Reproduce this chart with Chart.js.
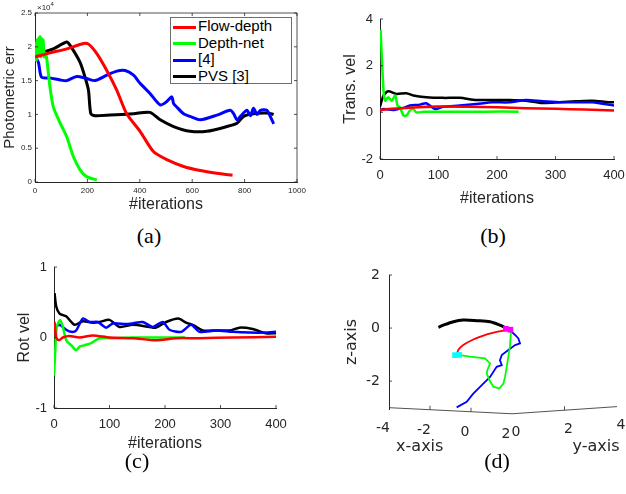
<!DOCTYPE html>
<html>
<head>
<meta charset="utf-8">
<script src="https://cdn.jsdelivr.net/npm/chart.js@4.4.0/dist/chart.umd.min.js"></script>
<style>
body { margin:0; background:#fff; width:626px; height:494px; position:relative; overflow:hidden; font-family:"Liberation Sans", Arial, sans-serif; }
.panel { position:absolute; }
.cap { position:absolute; font-family:"Liberation Serif", serif; font-size:22px; color:#000; transform:translate(-50%,-50%); }
#legend { position:absolute; left:170px; top:17px; width:120px; height:65px; border:1px solid #6e6e6e; background:#fff; font-size:15px; color:#000; }
#legend div { height:16.5px; line-height:16.5px; white-space:nowrap; }
#legend span { display:inline-block; width:23px; height:3px; vertical-align:middle; margin:0 2px 0 2px; }
#exp { position:absolute; left:37px; top:1px; font-size:8px; color:#262626; }
</style>
</head>
<body>

<div class="panel" style="left:0;top:0;width:310px;height:215px"><canvas id="chartA"></canvas></div>
<div class="panel" style="left:310px;top:0;width:316px;height:215px"><canvas id="chartB"></canvas></div>
<div class="panel" style="left:0;top:250px;width:310px;height:210px"><canvas id="chartC"></canvas></div>
<div class="panel" style="left:330px;top:250px;width:296px;height:210px"><canvas id="chartD"></canvas></div>
<div id="exp">&times;10<sup style="font-size:6px">4</sup></div>
<div id="legend"></div>
<div class="cap" style="left:149px;top:236px">(a)</div>
<div class="cap" style="left:493px;top:236px">(b)</div>
<div class="cap" style="left:137px;top:461px">(c)</div>
<div class="cap" style="left:497px;top:461px">(d)</div>

<script>
// series names and colours
const names = ['Flow-depth', 'Depth-net', '[4]', 'PVS [3]'];
const colors = ['#ff0000', '#00ff00', '#0000ff', '#000000'];

// (a) photometric error (x10^4) vs iterations
const errFlowIt = [0, 57, 121, 185, 204, 236, 274, 312, 350, 401, 452, 503, 567, 631, 694, 754];
const errFlow = [1.85, 1.91, 1.97, 2.05, 2.04, 1.90, 1.65, 1.36, 1.01, 0.75, 0.45, 0.33, 0.23, 0.17, 0.13, 0.10];
const errDepthIt = [0, 3, 5, 8, 10, 13, 16, 19, 22, 25, 28, 31, 35, 40, 45, 57, 70, 96, 121, 146, 172, 197, 236];
const errDepth = [1.85, 2.05, 1.8, 2.1, 1.85, 2.12, 1.9, 2.15, 1.85, 2.12, 1.9, 2.1, 1.85, 1.9, 1.82, 1.41, 1.11, 0.87, 0.67, 0.38, 0.18, 0.08, 0.03];
const errRefIt = [0, 13, 25, 57, 96, 121, 159, 197, 229, 274, 312, 344, 376, 401, 439, 478, 503, 522, 529, 541, 567, 592, 631, 694, 745, 758, 771, 784, 809, 822, 834, 847, 860, 885, 898, 911];
const errRef = [1.85, 1.77, 1.55, 1.54, 1.51, 1.50, 1.56, 1.53, 1.50, 1.58, 1.64, 1.65, 1.58, 1.46, 1.31, 1.14, 1.19, 1.26, 1.16, 1.11, 1.01, 0.97, 0.92, 0.99, 1.06, 1.01, 0.92, 0.97, 1.06, 0.98, 1.09, 1.0, 1.06, 1.06, 0.97, 0.86];
const errPvsIt = [0, 32, 70, 121, 134, 172, 191, 204, 213, 229, 287, 376, 439, 478, 529, 592, 656, 732, 771, 796, 834, 885, 911];
const errPvs = [1.84, 1.92, 1.97, 2.07, 2.02, 1.77, 1.55, 1.36, 1.01, 0.98, 0.99, 1.01, 1.03, 0.92, 0.82, 0.75, 0.75, 0.82, 0.87, 0.97, 1.01, 1.02, 1.0];
const errXTicks = [0, 200, 400, 600, 800, 1000];
const errYTicks = [0, 0.5, 1, 1.5, 2, 2.5];

// (b) translational velocity
const transFlowIt = [0, 20, 50, 100, 150, 200, 250, 300, 350, 400];
const transFlow = [0.1, 0.15, 0.2, 0.25, 0.24, 0.22, 0.18, 0.15, 0.12, 0.08];
const transDepthIt = [1, 6, 9, 14, 20, 26, 30, 34, 40, 45, 51, 57, 62, 74, 120, 180, 237];
const transDepth = [3.54, 0.93, 0.5, 0.65, 0.5, 0.72, 0.29, 0.22, -0.14, -0.14, 0.07, 0.14, 0, 0.02, 0.02, 0.03, 0.03];
const transRefIt = [0, 6, 23, 40, 51, 68, 79, 94, 108, 136, 165, 193, 221, 250, 278, 306, 335, 363, 400];
const transRef = [0.07, 0.14, 0.1, 0.19, 0.29, 0.33, 0.39, 0.14, 0.24, 0.29, 0.36, 0.43, 0.43, 0.53, 0.47, 0.43, 0.43, 0.43, 0.29];
const transPvsIt = [0, 6, 14, 28, 45, 57, 79, 108, 136, 165, 193, 221, 250, 278, 306, 335, 363, 391, 400];
const transPvs = [0.24, 0.72, 0.90, 0.79, 0.82, 0.72, 0.65, 0.62, 0.62, 0.53, 0.53, 0.53, 0.5, 0.4, 0.43, 0.47, 0.5, 0.43, 0.43];
const transYTicks = [-2, 0, 2, 4];

// (c) rotational velocity
const rotFlowIt = [1, 4, 9, 16, 28, 46, 70, 100, 142, 184, 220, 262, 322, 400];
const rotFlow = [0.22, 0, -0.04, 0, 0.02, 0, 0.03, 0, -0.01, -0.04, -0.01, -0.01, 0, 0.01];
const rotDepthIt = [0, 2, 5, 11, 16, 22, 31, 40, 46, 55, 67, 82, 100, 142, 202, 236];
const rotDepth = [-0.54, -0.23, 0.15, 0.25, 0.15, -0.04, -0.11, -0.18, -0.13, -0.11, -0.08, -0.01, -0.01, 0, 0, 0];
const rotRefIt = [0, 4, 10, 22, 31, 40, 52, 64, 79, 94, 106, 130, 142, 160, 178, 196, 208, 229, 247, 262, 292, 322, 352, 382, 400];
const rotRef = [0.06, 0.15, 0.18, 0.11, 0.08, 0.10, 0.27, 0.22, 0.22, 0.14, 0.2, 0.19, 0.20, 0.22, 0.15, 0.22, 0.11, 0.08, 0.18, 0.08, 0.1, 0.08, 0.07, 0.07, 0.08];
const rotPvsIt = [1, 4, 10, 22, 37, 52, 70, 82, 100, 118, 142, 172, 184, 202, 224, 238, 250, 268, 292, 317, 334, 358, 382, 400];
const rotPvs = [0.63, 0.44, 0.34, 0.30, 0.18, 0.23, 0.21, 0.22, 0.25, 0.15, 0.18, 0.15, 0.14, 0.22, 0.27, 0.21, 0.18, 0.10, 0.10, 0.1, 0.14, 0.12, 0.06, 0.06];
const rotYTicks = [-1, 0, 1];
const velXTicks = [0, 100, 200, 300, 400];

// (d) camera trajectories, projected: u = horizontal (x-axis units), z
const trajPvsU = [-1.59, -1.35, -0.86, -0.38, 0.28, 0.93, 1.41, 1.74];
const trajPvsZ = [0.03, 0.11, 0.24, 0.30, 0.28, 0.24, 0.11, -0.01];
const trajFlowU = [-0.70, -0.62, -0.38, 0.11, 0.77, 1.25, 1.74];
const trajFlowZ = [-1.02, -0.83, -0.64, -0.43, -0.24, -0.14, -0.08];
const trajDepthU = [-0.54, -0.05, 0.68, 0.93, 0.80, 0.77, 0.89, 1.09, 1.38, 1.58, 1.66, 1.74, 1.82, 1.90, 1.94, 1.90];
const trajDepthZ = [-1.02, -1.08, -1.14, -1.33, -1.58, -1.71, -1.96, -2.21, -2.28, -2.09, -1.84, -1.46, -1.08, -0.70, -0.20, -0.08];
const trajRefU = [1.90, 2.15, 2.31, 2.39, 2.15, 1.82, 1.50, 1.41, 1.50, 1.25, 0.93, 0.60, 0.11, -0.21, -0.70];
const trajRefZ = [-0.08, -0.26, -0.39, -0.58, -0.64, -0.83, -1.02, -1.21, -1.40, -1.46, -1.84, -2.09, -2.47, -2.78, -2.99];
const startU = [-0.78, -0.58];
const startZ = [-1.02, -1.01];
const goalU = [1.70, 1.92];
const goalZ = [-0.03, -0.06];
const zTicks = [-2, 0, 2];
const xAxisTicks = [-4, -2, 0, 2];
const yAxisTicks = [0, 2, 4];
const yDepthFactor = 1.28;           // one y unit in projected u units
const floorU = [-4, 2, 7.12];
const floorZ = [-3.0, -3.23, -2.96];

const tickColor = '#262626';
const pts = (xs, ys) => xs.map((x, i) => ({x: x, y: ys[i]}));

function lineSet(label, xs, ys, color, width) {
    return {
        label: label, data: pts(xs, ys), borderColor: color, backgroundColor: color,
        borderWidth: width, pointRadius: 0, tension: 0.25, fill: false
    };
}

// inward tick marks + optional full box (MATLAB look)
const matlabTicks = {
    id: 'matlabTicks',
    afterDraw(chart, args, opts) {
        const {ctx, chartArea: a, scales} = chart;
        ctx.save();
        ctx.strokeStyle = tickColor;
        ctx.lineWidth = 0.8;
        const len = 3;
        if (opts.box) {
            ctx.beginPath();
            ctx.moveTo(a.left, a.top); ctx.lineTo(a.right, a.top); ctx.lineTo(a.right, a.bottom);
            ctx.stroke();
        }
        ctx.beginPath();
        if (scales.x && scales.x.options.display) {
            scales.x.ticks.forEach(t => {
                const px = scales.x.getPixelForValue(t.value);
                ctx.moveTo(px, a.bottom); ctx.lineTo(px, a.bottom - len);
                if (opts.box) { ctx.moveTo(px, a.top); ctx.lineTo(px, a.top + len); }
            });
        }
        scales.y.ticks.forEach(t => {
            const py = scales.y.getPixelForValue(t.value);
            ctx.moveTo(a.left, py); ctx.lineTo(a.left + len, py);
            if (opts.box) { ctx.moveTo(a.right, py); ctx.lineTo(a.right - len, py); }
        });
        ctx.stroke();
        ctx.restore();
    }
};

const plain = v => String(v);

function xAxis(min, max, ticks, tickSize, tickPad, title, titleSize, titlePad, height) {
    return {
        type: 'linear', min: min, max: max,
        afterBuildTicks: s => { s.ticks = ticks.map(v => ({value: v})); },
        afterFit: s => { s.height = height; s.paddingLeft = 0; s.paddingRight = 0; },
        grid: {display: false, drawTicks: false},
        border: {display: true, color: tickColor, width: 1},
        ticks: {color: tickColor, font: {family: 'Liberation Sans', size: tickSize}, padding: tickPad, maxRotation: 0, callback: plain},
        title: {display: true, text: title, color: tickColor, font: {family: 'Liberation Sans', size: titleSize}, padding: {top: 0, bottom: titlePad}}
    };
}

function yAxis(min, max, ticks, tickSize, tickPad, title, titleSize, titlePad, width, family) {
    return {
        type: 'linear', min: min, max: max,
        afterBuildTicks: s => { s.ticks = ticks.map(v => ({value: v})); },
        afterFit: s => { s.width = width; s.paddingTop = 0; s.paddingBottom = 0; },
        grid: {display: false, drawTicks: false},
        border: {display: true, color: tickColor, width: 1},
        ticks: {color: tickColor, font: {family: family || 'Liberation Sans', size: tickSize}, padding: tickPad, callback: plain},
        title: {display: true, text: title, color: tickColor, font: {family: family || 'Liberation Sans', size: titleSize}, padding: {top: titlePad, bottom: 0}}
    };
}

const baseOpts = {
    responsive: true, maintainAspectRatio: false, animation: false,
    plugins: {legend: {display: false}, tooltip: {enabled: false}}
};

// (a)
const chartA = new Chart(document.getElementById('chartA'), {
    type: 'line',
    data: {datasets: [
        lineSet(names[0], errFlowIt, errFlow, colors[0], 3),
        lineSet(names[1], errDepthIt, errDepth, colors[1], 3),
        lineSet(names[2], errRefIt, errRef, colors[2], 3),
        lineSet(names[3], errPvsIt, errPvs, colors[3], 3)
    ]},
    options: Object.assign({}, baseOpts, {
        layout: {padding: {left: 0, right: 13, top: 13, bottom: 0}},
        scales: {
            x: xAxis(0, 1000, errXTicks, 8, 4, '#iterations', 16, 1, 33),
            y: yAxis(0, 2.5, errYTicks, 8, 3, 'Photometric err', 15, 1, 35)
        },
        plugins: Object.assign({}, baseOpts.plugins, {matlabTicks: {box: true}})
    }),
    plugins: [matlabTicks]
});

// HTML legend built from chart (a) datasets
document.getElementById('legend').innerHTML = chartA.data.datasets.map(d =>
    '<div><span style="background:' + d.borderColor + '"></span>' + d.label + '</div>').join('');

// (b)
new Chart(document.getElementById('chartB'), {
    type: 'line',
    data: {datasets: [
        lineSet(names[0], transFlowIt, transFlow, colors[0], 2.5),
        lineSet(names[1], transDepthIt, transDepth, colors[1], 2.5),
        lineSet(names[2], transRefIt, transRef, colors[2], 2.5),
        lineSet(names[3], transPvsIt, transPvs, colors[3], 2.5)
    ]},
    options: Object.assign({}, baseOpts, {
        layout: {padding: {left: 0, right: 12, top: 19, bottom: 0}},
        scales: {
            x: xAxis(0, 400, velXTicks, 13, 9, '#iterations', 16, 7, 56),
            y: yAxis(-2, 4, transYTicks, 13, 7, 'Trans. vel', 16, 31, 70)
        },
        plugins: Object.assign({}, baseOpts.plugins, {matlabTicks: {box: false}})
    }),
    plugins: [matlabTicks]
});

// (c)
new Chart(document.getElementById('chartC'), {
    type: 'line',
    data: {datasets: [
        lineSet(names[0], rotFlowIt, rotFlow, colors[0], 2.5),
        lineSet(names[1], rotDepthIt, rotDepth, colors[1], 2.5),
        lineSet(names[2], rotRefIt, rotRef, colors[2], 2.5),
        lineSet(names[3], rotPvsIt, rotPvs, colors[3], 2.5)
    ]},
    options: Object.assign({}, baseOpts, {
        layout: {padding: {left: 0, right: 34, top: 17, bottom: 0}},
        scales: {
            x: xAxis(0, 400, velXTicks, 13, 9, '#iterations', 16, 7, 52),
            y: yAxis(-1, 1, rotYTicks, 13, 7, 'Rot vel', 16, 15, 54)
        },
        plugins: Object.assign({}, baseOpts.plugins, {matlabTicks: {box: false}})
    }),
    plugins: [matlabTicks]
});

// (d) floor of the 3D box with x-axis / y-axis labels
const floor3d = {
    id: 'floor3d',
    afterDraw(chart) {
        const {ctx, scales: {x, y}} = chart;
        const floorAt = u => {
            for (let i = 0; i < floorU.length - 1; i++) {
                if (u <= floorU[i + 1]) {
                    const f = (u - floorU[i]) / (floorU[i + 1] - floorU[i]);
                    return floorZ[i] + f * (floorZ[i + 1] - floorZ[i]);
                }
            }
            return floorZ[floorZ.length - 1];
        };
        ctx.save();
        ctx.strokeStyle = tickColor;
        ctx.lineWidth = 0.8;
        ctx.beginPath();
        floorU.forEach((u, i) => {
            const px = x.getPixelForValue(u), py = y.getPixelForValue(floorZ[i]);
            if (i === 0) ctx.moveTo(px, py); else ctx.lineTo(px, py);
        });
        const tickU = xAxisTicks.slice(1, -1).concat(yAxisTicks.slice(1, -1).map(v => floorU[1] + v * yDepthFactor));
        tickU.forEach(u => {
            const px = x.getPixelForValue(u), py = y.getPixelForValue(floorAt(u));
            ctx.moveTo(px, py); ctx.lineTo(px, py - 4);
        });
        ctx.stroke();
        ctx.fillStyle = tickColor;
        ctx.font = '14px "DejaVu Sans"';
        ctx.textAlign = 'center';
        ctx.textBaseline = 'middle';
        xAxisTicks.forEach(v => {
            const px = x.getPixelForValue(v), py = y.getPixelForValue(floorAt(v));
            ctx.fillText(String(v), px - 6, py + 21);
        });
        yAxisTicks.forEach(v => {
            const u = floorU[1] + v * yDepthFactor;
            const px = x.getPixelForValue(u), py = y.getPixelForValue(floorAt(u));
            ctx.fillText(String(v), px + 4, py + 19);
        });
        ctx.font = '16px "DejaVu Sans"';
        ctx.fillText('x-axis', x.getPixelForValue(-2.5), y.bottom + 38);
        ctx.fillText('y-axis', x.getPixelForValue(floorU[1] + 3.2 * yDepthFactor), y.bottom + 38);
        ctx.restore();
    }
};

new Chart(document.getElementById('chartD'), {
    type: 'line',
    data: {datasets: [
        Object.assign(lineSet('start', startU, startZ, '#00ffff', 0), {showLine: false, pointStyle: 'rect', pointRadius: 4}),
        Object.assign(lineSet('goal', goalU, goalZ, '#ff00ff', 0), {showLine: false, pointStyle: 'rect', pointRadius: 4}),
        Object.assign(lineSet(names[3], trajPvsU, trajPvsZ, colors[3], 3), {tension: 0.3}),
        Object.assign(lineSet(names[0], trajFlowU, trajFlowZ, colors[0], 1.8), {tension: 0.3}),
        Object.assign(lineSet(names[1], trajDepthU, trajDepthZ, colors[1], 1.8), {tension: 0}),
        Object.assign(lineSet(names[2], trajRefU, trajRefZ, colors[2], 1.8), {tension: 0})
    ]},
    options: Object.assign({}, baseOpts, {
        layout: {padding: {left: 0, right: 9, top: 25, bottom: 51}},
        scales: {
            x: {type: 'linear', min: -4, max: 7.12, display: false},
            y: yAxis(-3.05, 2, zTicks, 14, 9, 'z-axis', 16, 12, 59, 'DejaVu Sans')
        },
        plugins: Object.assign({}, baseOpts.plugins, {matlabTicks: {box: false}})
    }),
    plugins: [matlabTicks, floor3d]
});
</script>
</body>
</html>
